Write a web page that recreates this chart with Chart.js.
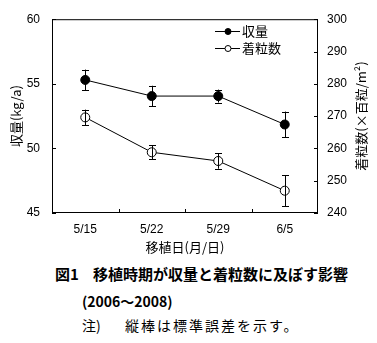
<!DOCTYPE html>
<html>
<head>
<meta charset="utf-8">
<script src="https://cdn.jsdelivr.net/npm/chart.js@4"></script>
<style>
    html, body {margin: 0; padding: 0; background: #fff;}
    #wrap {position: relative; width: 377px; height: 343px;}
    #chart {position: absolute; left: 0; top: 0;}
    .cap {position: absolute; white-space: nowrap; color: #000; font-family: "Noto Sans CJK JP", sans-serif; line-height: 1;}
</style>
</head>
<body>
<div id="wrap">
    <canvas id="chart" width="377" height="260"></canvas>
    <div class="cap" style="left:55px; top:266px; font-size:15px; font-weight:bold;">図1</div>
    <div class="cap" style="left:93px; top:266px; font-size:15px; font-weight:bold;">移植時期が収量と着粒数に及ぼす影響</div>
    <div class="cap" style="left:82px; top:294px; font-size:14px; font-weight:bold;">(2006～2008)</div>
    <div class="cap" style="left:82px; top:318px; font-size:14px;">注)</div>
    <div class="cap" style="left:125px; top:318px; font-size:14px; letter-spacing:2px;">縦棒は標準誤差を示す。</div>
</div>
<script>
    const dates = ['5/15', '5/22', '5/29', '6/5'];
    const yieldValues = [55.3, 54.05, 54.05, 51.85];
    const yieldErrors = [0.8, 0.8, 0.5, 1.0];
    const grainValues = [269.6, 258.8, 256.1, 246.9];
    const grainErrors = [2.4, 2.2, 2.4, 4.8];
    const yieldTicks = [45, 50, 55, 60];
    const grainTicks = [240, 250, 260, 270, 280, 290, 300];

    const numFont = {family: 'Liberation Sans', size: 12};
    const jpFont = '13px "Noto Sans CJK JP"';

    // error bars, frame, inward ticks, axis titles and legend
    const extras = {
        id: 'extras',
        afterDatasetsDraw(chart) {
            const ctx = chart.ctx;
            const area = chart.chartArea;
            const x = chart.scales.x;
            const y = chart.scales.y;
            const y1 = chart.scales.y1;
            ctx.save();
            ctx.strokeStyle = '#000';
            ctx.lineWidth = 1;

            // error bars
            const sets = [[yieldValues, yieldErrors, y], [grainValues, grainErrors, y1]];
            sets.forEach(([vals, errs, scale]) => {
                vals.forEach((v, i) => {
                    const px = Math.round(x.getPixelForValue(i)) + 0.5;
                    const top = scale.getPixelForValue(v + errs[i]);
                    const bot = scale.getPixelForValue(v - errs[i]);
                    ctx.beginPath();
                    ctx.moveTo(px, top);
                    ctx.lineTo(px, bot);
                    ctx.moveTo(px - 3.5, Math.round(top) + 0.5);
                    ctx.lineTo(px + 3.5, Math.round(top) + 0.5);
                    ctx.moveTo(px - 3.5, Math.round(bot) + 0.5);
                    ctx.lineTo(px + 3.5, Math.round(bot) + 0.5);
                    ctx.stroke();
                });
            });

            // frame
            ctx.strokeRect(area.left + 0.5, area.top + 0.5, area.right - area.left - 1, area.bottom - area.top - 1);

            // inward ticks
            ctx.beginPath();
            yieldTicks.forEach(t => {
                const py = Math.round(y.getPixelForValue(t)) + 0.5;
                ctx.moveTo(area.left, py);
                ctx.lineTo(area.left + 4, py);
            });
            grainTicks.forEach(t => {
                const py = Math.round(y1.getPixelForValue(t)) + 0.5;
                ctx.moveTo(area.right, py);
                ctx.lineTo(area.right - 4, py);
            });
            for (let i = 1; i < dates.length; i++) {
                const px = Math.round((x.getPixelForValue(i - 1) + x.getPixelForValue(i)) / 2) + 0.5;
                ctx.moveTo(px, area.bottom);
                ctx.lineTo(px, area.bottom - 4);
            }
            ctx.stroke();

            // axis titles
            ctx.fillStyle = '#000';
            ctx.font = jpFont;
            ctx.textAlign = 'center';
            ctx.textBaseline = 'middle';
            ctx.fillText('移植日(月/日)', (area.left + area.right) / 2, 247);
            const midY = (area.top + area.bottom) / 2;
            ctx.save();
            ctx.translate(16, midY);
            ctx.rotate(-Math.PI / 2);
            ctx.fillText('収量(kg/a)', 0, 0);
            ctx.restore();
            ctx.save();
            ctx.translate(361, midY);
            ctx.rotate(-Math.PI / 2);
            ctx.fillText('着粒数(×百粒/m²)', 0, 0);
            ctx.restore();

            // legend
            const rows = [['収量', '#000', 31], ['着粒数', '#fff', 48]];
            rows.forEach(([label, fill, ly]) => {
                ctx.beginPath();
                ctx.moveTo(215, ly + 0.5);
                ctx.lineTo(240, ly + 0.5);
                ctx.stroke();
                ctx.beginPath();
                ctx.arc(228, ly + 0.5, 3, 0, Math.PI * 2);
                ctx.fillStyle = fill;
                ctx.fill();
                ctx.stroke();
                ctx.fillStyle = '#000';
                ctx.textAlign = 'left';
                ctx.fillText(label, 242, ly);
            });
            ctx.restore();
        }
    };

    new Chart(document.getElementById('chart'), {
        type: 'line',
        data: {
            labels: dates,
            datasets: [{
                label: '収量',
                data: yieldValues,
                yAxisID: 'y',
                borderColor: '#000',
                borderWidth: 1,
                pointRadius: 4.5,
                pointBackgroundColor: '#000',
                pointBorderColor: '#000',
                pointBorderWidth: 1
            }, {
                label: '着粒数',
                data: grainValues,
                yAxisID: 'y1',
                borderColor: '#000',
                borderWidth: 1,
                pointRadius: 4.5,
                pointBackgroundColor: '#fff',
                pointBorderColor: '#000',
                pointBorderWidth: 1
            }]
        },
        options: {
            responsive: false,
            animation: false,
            layout: {padding: {top: 17, left: 0, right: 0, bottom: 0}},
            plugins: {legend: {display: false}, tooltip: {enabled: false}},
            scales: {
                x: {
                    offset: true,
                    grid: {display: false, drawTicks: false, offset: true},
                    border: {display: false},
                    ticks: {color: '#000', font: numFont, padding: 9, maxRotation: 0},
                    afterFit(scale) { scale.height = 47; }
                },
                y: {
                    position: 'left',
                    min: 45, max: 60,
                    grid: {display: false, drawTicks: false},
                    border: {display: false},
                    ticks: {color: '#000', font: numFont, stepSize: 5, padding: 12},
                    afterFit(scale) { scale.width = 52; }
                },
                y1: {
                    position: 'right',
                    min: 240, max: 300,
                    grid: {display: false, drawTicks: false},
                    border: {display: false},
                    ticks: {color: '#000', font: numFont, stepSize: 10, padding: 9},
                    afterFit(scale) { scale.width = 59; }
                }
            }
        },
        plugins: [extras]
    });
</script>
</body>
</html>
